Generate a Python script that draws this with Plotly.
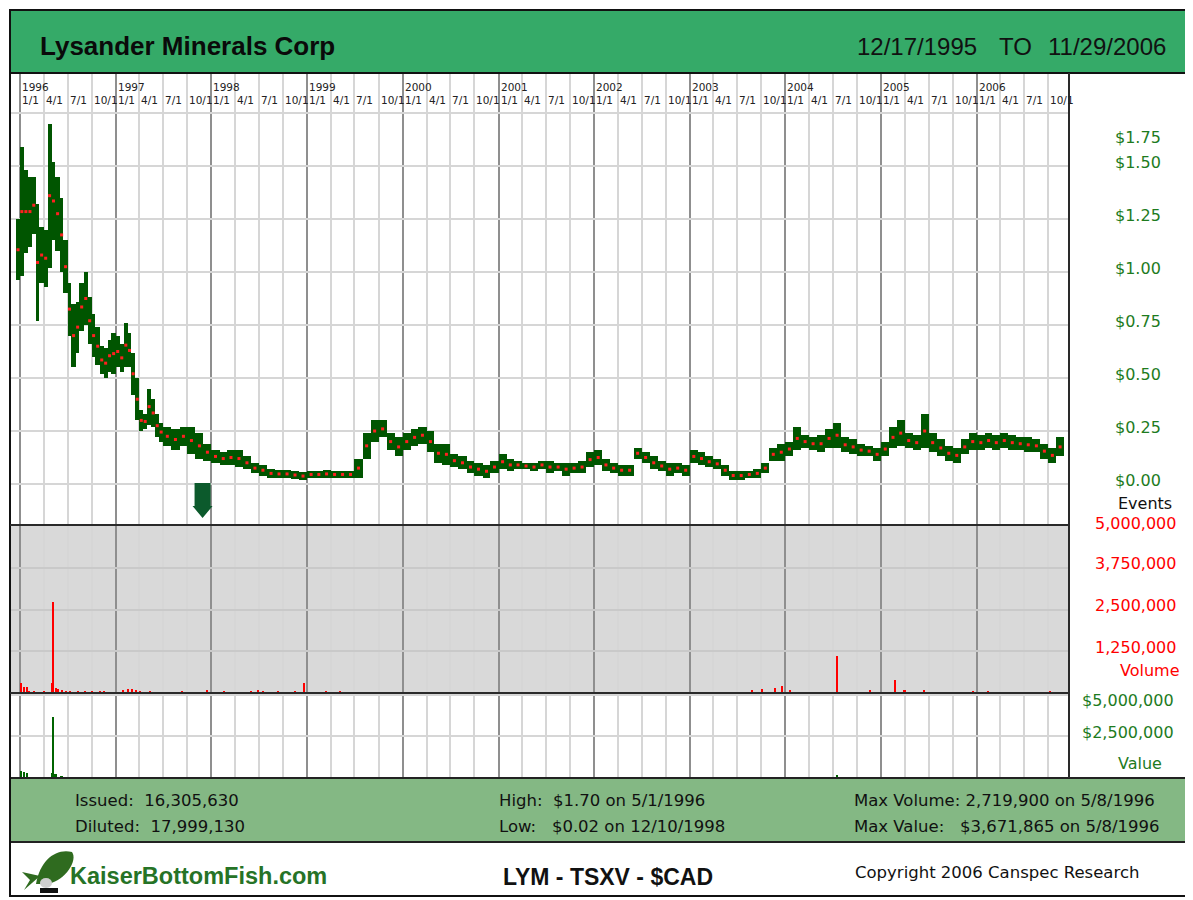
import plotly.graph_objects as go
import pandas as pd

# ---------------- data ----------------
price_dates = [
    "1995-12-17", "1996-01-01", "1996-01-15", "1996-02-01", "1996-02-15", "1996-03-01", "1996-03-15",
    "1996-04-01", "1996-04-15", "1996-05-01", "1996-05-15", "1996-06-01", "1996-06-15", "1996-07-01",
    "1996-07-15", "1996-08-01", "1996-08-15", "1996-09-01", "1996-09-15", "1996-10-01", "1996-10-15",
    "1996-11-01", "1996-11-15", "1996-12-01", "1996-12-15", "1997-01-01", "1997-01-15", "1997-02-01",
    "1997-02-15", "1997-03-01", "1997-03-15", "1997-04-01", "1997-04-15", "1997-05-01", "1997-05-15",
    "1997-06-01", "1997-06-15",
    "1997-07-01", "1997-08-01", "1997-09-01", "1997-10-01", "1997-11-01", "1997-12-01",
    "1998-01-01", "1998-02-01", "1998-03-01", "1998-04-01", "1998-05-01", "1998-06-01",
    "1998-07-01", "1998-08-01", "1998-09-01", "1998-10-01", "1998-11-01", "1998-12-01",
    "1999-01-01", "1999-02-01", "1999-03-01", "1999-04-01", "1999-05-01", "1999-06-01",
    "1999-07-01", "1999-08-01", "1999-09-01", "1999-10-01", "1999-11-01", "1999-12-01",
    "2000-01-01", "2000-02-01", "2000-03-01", "2000-04-01", "2000-05-01", "2000-06-01",
    "2000-07-01", "2000-08-01", "2000-09-01", "2000-10-01", "2000-11-01", "2000-12-01",
    "2001-01-01", "2001-02-01", "2001-03-01", "2001-04-01", "2001-05-01", "2001-06-01",
    "2001-07-01", "2001-08-01", "2001-09-01", "2001-10-01", "2001-11-01", "2001-12-01",
    "2002-01-01", "2002-02-01", "2002-03-01", "2002-04-01", "2002-05-01", "2002-06-01",
    "2002-07-01", "2002-08-01", "2002-09-01", "2002-10-01", "2002-11-01", "2002-12-01",
    "2003-01-01", "2003-02-01", "2003-03-01", "2003-04-01", "2003-05-01", "2003-06-01",
    "2003-07-01", "2003-08-01", "2003-09-01", "2003-10-01", "2003-11-01", "2003-12-01",
    "2004-01-01", "2004-02-01", "2004-03-01", "2004-04-01", "2004-05-01", "2004-06-01",
    "2004-07-01", "2004-08-01", "2004-09-01", "2004-10-01", "2004-11-01", "2004-12-01",
    "2005-01-01", "2005-02-01", "2005-03-01", "2005-04-01", "2005-05-01", "2005-06-01",
    "2005-07-01", "2005-08-01", "2005-09-01", "2005-10-01", "2005-11-01", "2005-12-01",
    "2006-01-01", "2006-02-01", "2006-03-01", "2006-04-01", "2006-05-01", "2006-06-01",
    "2006-07-01", "2006-08-01", "2006-09-01", "2006-10-01", "2006-11-01",
]
price_end = "2006-11-29"

price_high = [
    1.25, 1.59, 1.48, 1.45, 1.45, 1.32, 1.21,
    1.20, 1.70, 1.52, 1.45, 1.35, 1.15, 0.95,
    0.85, 0.86, 0.95, 1.00, 0.88, 0.80, 0.74,
    0.65, 0.64, 0.68, 0.71, 0.70, 0.66, 0.76,
    0.71, 0.62, 0.50, 0.35, 0.33, 0.45, 0.40,
    0.33, 0.29,
    0.27, 0.26, 0.27, 0.27, 0.24, 0.19,
    0.16, 0.15, 0.16, 0.16, 0.13, 0.10,
    0.09, 0.07, 0.065, 0.065, 0.06, 0.055,
    0.06, 0.06, 0.065, 0.06, 0.06, 0.06,
    0.12, 0.24, 0.30, 0.30, 0.24, 0.22,
    0.24, 0.26, 0.27, 0.25, 0.19, 0.19,
    0.14, 0.13, 0.11, 0.10, 0.09, 0.11,
    0.14, 0.12, 0.11, 0.10, 0.10, 0.11,
    0.11, 0.10, 0.10, 0.10, 0.11, 0.15,
    0.16, 0.12, 0.10, 0.09, 0.09, 0.17,
    0.15, 0.13, 0.11, 0.10, 0.10, 0.09,
    0.16, 0.15, 0.13, 0.12, 0.09, 0.06,
    0.06, 0.06, 0.07, 0.10, 0.17, 0.19,
    0.20, 0.27, 0.23, 0.22, 0.23, 0.26,
    0.29, 0.22, 0.21, 0.19, 0.18, 0.17,
    0.20, 0.27, 0.30, 0.24, 0.23, 0.33,
    0.24, 0.21, 0.18, 0.17, 0.21, 0.24,
    0.23, 0.24, 0.23, 0.24, 0.23, 0.22,
    0.22, 0.21, 0.19, 0.17, 0.22,
]
price_low = [
    0.96, 0.98, 1.09, 1.12, 1.18, 0.77, 0.95,
    0.93, 1.02, 1.15, 1.10, 1.00, 0.90, 0.70,
    0.55, 0.62, 0.72, 0.75, 0.66, 0.60, 0.56,
    0.52, 0.50, 0.53, 0.52, 0.55, 0.53, 0.55,
    0.55, 0.42, 0.30, 0.25, 0.26, 0.28, 0.27,
    0.22, 0.20,
    0.18, 0.16, 0.18, 0.14, 0.12, 0.11,
    0.10, 0.09, 0.09, 0.08, 0.07, 0.05,
    0.04, 0.03, 0.03, 0.03, 0.025, 0.02,
    0.03, 0.03, 0.03, 0.03, 0.03, 0.03,
    0.03, 0.12, 0.20, 0.22, 0.16, 0.13,
    0.16, 0.18, 0.19, 0.15, 0.10, 0.09,
    0.08, 0.07, 0.05, 0.04, 0.03, 0.05,
    0.07, 0.06, 0.07, 0.07, 0.06, 0.07,
    0.05, 0.06, 0.04, 0.05, 0.05, 0.08,
    0.09, 0.06, 0.05, 0.04, 0.04, 0.12,
    0.10, 0.07, 0.06, 0.04, 0.05, 0.04,
    0.10, 0.09, 0.08, 0.07, 0.04, 0.02,
    0.02, 0.03, 0.03, 0.05, 0.11, 0.11,
    0.13, 0.16, 0.17, 0.16, 0.15, 0.17,
    0.17, 0.15, 0.14, 0.13, 0.13, 0.11,
    0.13, 0.17, 0.18, 0.17, 0.16, 0.17,
    0.15, 0.13, 0.11, 0.10, 0.14, 0.16,
    0.16, 0.17, 0.16, 0.17, 0.16, 0.16,
    0.15, 0.15, 0.12, 0.10, 0.13,
]

vol_dates = [
    "1996-01-05", "1996-01-16", "1996-01-28", "1996-02-04", "1996-02-23", "1996-04-02",
    "1996-05-02", "1996-05-08", "1996-05-17", "1996-05-25", "1996-06-09", "1996-06-25",
    "1996-07-10", "1996-08-09", "1996-09-05", "1996-10-02", "1996-11-01", "1996-11-17",
    "1997-01-28", "1997-02-16", "1997-03-04", "1997-03-19", "1997-04-03", "1997-05-11",
    "1997-09-11", "1997-12-15", "1998-02-18", "1998-06-01", "1998-06-28", "1998-07-17",
    "1998-09-12", "1998-11-16", "1998-12-20", "1999-03-14", "1999-05-07",
    "2003-08-27", "2003-10-04", "2003-11-23", "2003-12-20", "2004-01-19", "2004-07-16",
    "2004-11-19", "2005-02-23", "2005-04-01", "2005-06-15", "2005-12-20", "2006-02-15",
    "2006-10-10",
]
vol_values = [
    300000, 180000, 170000, 60000, 60000, 60000,
    300000, 2719900, 150000, 120000, 80000, 70000,
    60000, 60000, 60000, 60000, 60000, 60000,
    80000, 120000, 110000, 90000, 70000, 60000,
    60000, 100000, 60000, 60000, 80000, 70000,
    60000, 60000, 300000, 60000, 60000,
    100000, 120000, 150000, 200000, 100000, 1100000,
    100000, 400000, 100000, 80000, 60000, 50000,
    50000,
]

val_dates = ["1996-01-05", "1996-01-16", "1996-01-28", "1996-05-02", "1996-05-08", "1996-05-17",
             "1996-06-09", "2004-07-16"]
val_values = [380000, 300000, 250000, 250000, 3671865, 200000, 60000, 100000]

event_dates = ["1997-11-28"]

price_ticks = [0.0, 0.25, 0.5, 0.75, 1.0, 1.25, 1.5, 1.75]
price_labels = ["$0.00", "$0.25", "$0.50", "$0.75", "$1.00", "$1.25", "$1.50", "$1.75"]
vol_ticks = [1250000, 2500000, 3750000, 5000000]
vol_labels = ["1,250,000", "2,500,000", "3,750,000", "5,000,000"]
val_ticks = [2500000, 5000000]
val_labels = ["$2,500,000", "$5,000,000"]
years = list(range(1996, 2007))
quarter_labels = ["1/1", "4/1", "7/1", "10/1"]
quarter_months = [1, 4, 7, 10]

# ---------------- layout helpers ----------------
# the page body has an 8px margin; figure sized to fill the rest of the 1193x900 window
OFF = 8
W, H = 1193 - OFF, 900 - OFF


def px(x):
    return (x - OFF) / W


def py(y):
    return 1 - (y - OFF) / H


FONT = "Liberation Sans, Arial, sans-serif"
WIDE = "DejaVu Sans, Verdana, sans-serif"
DARK_GREEN = "#005500"
LABEL_GREEN = "#1e7b1e"

dates = pd.to_datetime(price_dates)
ends = list(dates[1:]) + [pd.Timestamp(price_end)]
widths = [(e - d).total_seconds() * 1000 for d, e in zip(dates, ends)]
spans = [h - l for h, l in zip(price_high, price_low)]
mids = [d + (e - d) / 2 for d, e in zip(dates, ends)]
midvals = [(h + l) / 2 for h, l in zip(price_high, price_low)]

fig = go.Figure()

fig.add_trace(go.Bar(
    x=dates, y=spans, base=price_low, width=widths, offset=0,
    marker=dict(color=DARK_GREEN, line=dict(width=0)),
    xaxis="x", yaxis="y", showlegend=False, hoverinfo="skip"))
fig.add_trace(go.Scatter(
    x=mids, y=midvals, mode="markers",
    marker=dict(color="#ff2020", size=3, symbol="square"),
    xaxis="x", yaxis="y", showlegend=False, hoverinfo="skip"))

day_ms = 86400000
fig.add_trace(go.Bar(
    x=pd.to_datetime(vol_dates), y=vol_values, width=[6 * day_ms] * len(vol_dates),
    marker=dict(color="#ff0000", line=dict(width=0)),
    xaxis="x2", yaxis="y2", showlegend=False, hoverinfo="skip"))
fig.add_trace(go.Bar(
    x=pd.to_datetime(val_dates), y=val_values, width=[7 * day_ms] * len(val_dates),
    marker=dict(color="#006400", line=dict(width=0)),
    xaxis="x3", yaxis="y3", showlegend=False, hoverinfo="skip"))

x_range = ["1995-11-23 20:00", "2006-12-19"]
xcommon = dict(
    type="date", range=x_range, domain=[px(10), px(1069)],
    showticklabels=False, ticks="", showline=False, zeroline=False,
    showgrid=True, gridcolor="#8f8f8f", gridwidth=2,
    dtick="M12", tick0="1996-01-01",
    minor=dict(dtick="M3", tick0="1996-01-01", showgrid=True, gridcolor="#d6d6d6", gridwidth=2, ticks=""),
    fixedrange=True,
)
ycommon = dict(showticklabels=False, ticks="", showline=False, zeroline=False,
               showgrid=True, gridwidth=2, fixedrange=True)

fig.update_layout(
    width=W, height=H,
    margin=dict(l=0, r=0, t=0, b=0),
    paper_bgcolor="white", plot_bgcolor="white",
    barmode="overlay", bargap=0,
    xaxis=dict(**xcommon, anchor="y"),
    xaxis2=dict(**xcommon, anchor="y2", matches="x"),
    xaxis3=dict(**xcommon, anchor="y3", matches="x"),
    yaxis=dict(**ycommon, domain=[py(525), py(73)], range=[-0.1934, 1.9387],
               tickvals=price_ticks, gridcolor="#d6d6d6"),
    yaxis2=dict(**ycommon, domain=[py(693), py(525)], range=[0, 5.03e6],
                tickvals=vol_ticks, gridcolor="#c9c9c9"),
    yaxis3=dict(**ycommon, domain=[py(777), py(693)], range=[0, 5.122e6],
                tickvals=val_ticks, gridcolor="#d6d6d6"),
)

shapes = []
# volume panel background
shapes.append(dict(type="rect", xref="x2 domain", yref="y2 domain", x0=0, x1=1, y0=0, y1=1,
                   fillcolor="#d9d9d9", line=dict(width=0), layer="below"))
# header band
shapes.append(dict(type="rect", xref="paper", yref="paper", x0=px(10), x1=px(1190), y0=py(73), y1=py(10),
                   fillcolor="#35aa68", line=dict(color="#111", width=2), layer="above"))
# info band
shapes.append(dict(type="rect", xref="paper", yref="paper", x0=px(10), x1=px(1190), y0=py(842), y1=py(778),
                   fillcolor="#84b884", line=dict(color="#222", width=2), layer="above"))
# outer frame
shapes.append(dict(type="rect", xref="paper", yref="paper", x0=px(10), x1=px(1190), y0=py(896), y1=py(10),
                   fillcolor="rgba(0,0,0,0)", line=dict(color="#111", width=2), layer="above"))
# panel separators
for yy in (525, 693):
    shapes.append(dict(type="line", xref="paper", yref="paper", x0=px(10), x1=px(1069), y0=py(yy), y1=py(yy),
                       line=dict(color="#2a2a2a", width=2), layer="above"))
shapes.append(dict(type="line", xref="paper", yref="paper", x0=px(1069), x1=px(1069), y0=py(778), y1=py(73),
                   line=dict(color="#2a2a2a", width=2), layer="above"))
# event arrow (pixel-sized, anchored at event date / $0)
for ev in event_dates:
    shapes.append(dict(type="path", xref="x", yref="y", xsizemode="pixel", ysizemode="pixel",
                       xanchor=ev, yanchor=0,
                       path="M -8,1 L 8,1 L 8,-22 L 10,-22 L 0,-34 L -10,-22 L -8,-22 Z",
                       fillcolor="#0c5a2c", line=dict(width=0), layer="above"))
# fish logo
shapes.append(dict(type="path", xref="paper", yref="paper",
                   path=(f"M {px(36)},{py(884)} C {px(40)},{py(860)} {px(56)},{py(848)} {px(72)},{py(852)} "
                         f"C {px(78)},{py(860)} {px(66)},{py(880)} {px(48)},{py(884)} Z"),
                   fillcolor="#2f6b1f", line=dict(width=0)))
shapes.append(dict(type="path", xref="paper", yref="paper",
                   path=f"M {px(40)},{py(876)} L {px(22)},{py(872)} L {px(30)},{py(880)} L {px(24)},{py(890)} Z",
                   fillcolor="#2f6b1f", line=dict(width=0)))
shapes.append(dict(type="circle", xref="paper", yref="paper", x0=px(40), x1=px(52), y0=py(888), y1=py(878),
                   fillcolor="#cfcfcf", line=dict(width=0)))
shapes.append(dict(type="rect", xref="paper", yref="paper", x0=px(40), x1=px(58), y0=py(893), y1=py(888),
                   fillcolor="#111", line=dict(width=0)))
fig.update_layout(shapes=shapes)

ann = []


def txt(x, y, text, size, color="#111", anchor="left", bold=False, family=FONT, **kw):
    d = dict(x=px(x), y=py(y), xref="paper", yref="paper", text=f"<b>{text}</b>" if bold else text,
             showarrow=False, xanchor=anchor, yanchor="middle",
             font=dict(size=size, color=color, family=family))
    d.update(kw)
    ann.append(d)


# header texts
txt(38, 46, "Lysander Minerals Corp", 26, "#0a0a0a", bold=True)
txt(855, 46, "12/17/1995", 24, "#111")
txt(997, 46, "TO", 24, "#111")
txt(1046, 46, "11/29/2006", 24, "#111")

# date labels on top of the chart
for yr in years:
    ann.append(dict(x=f"{yr}-01-01", y=py(87), xref="x", yref="paper", text=str(yr), showarrow=False,
                    xanchor="left", yanchor="middle", xshift=0,
                    font=dict(size=10.5, color="#222", family=WIDE)))
    for q, m in zip(quarter_labels, quarter_months):
        ann.append(dict(x=f"{yr}-{m:02d}-01", y=py(100), xref="x", yref="paper", text=q, showarrow=False,
                        xanchor="left", yanchor="middle", xshift=0,
                        font=dict(size=10.5, color="#222", family=WIDE)))

# right-side axis labels
for v, lab in zip(price_ticks, price_labels):
    ann.append(dict(x=px(1163), y=v, xref="paper", yref="y", text=lab, showarrow=False,
                    xanchor="right", yanchor="middle", yshift=(-24 if v == max(price_ticks) else 4),
                    font=dict(size=16, color=LABEL_GREEN, family=WIDE)))
txt(1174, 503, "Events", 16, "#111", anchor="right", family=WIDE)
for v, lab in zip(vol_ticks, vol_labels):
    ann.append(dict(x=px(1178), y=v, xref="paper", yref="y2", text=lab, showarrow=False,
                    xanchor="right", yanchor="middle", yshift=(3 if v == max(vol_ticks) else 4),
                    font=dict(size=16, color="#ff0000", family=WIDE)))
txt(1182, 670, "Volume", 16, "#ff0000", anchor="right", family=WIDE)
for v, lab in zip(val_ticks, val_labels):
    ann.append(dict(x=px(1176), y=v, xref="paper", yref="y3", text=lab, showarrow=False,
                    xanchor="right", yanchor="middle", yshift=(-5 if v == max(val_ticks) else 4),
                    font=dict(size=16, color=LABEL_GREEN, family=WIDE)))
txt(1164, 763, "Value", 16, LABEL_GREEN, anchor="right", family=WIDE)

# info band
INFO = 16.5
txt(73, 800, "Issued:&nbsp;&nbsp;16,305,630", INFO, family=WIDE)
txt(73, 826, "Diluted:&nbsp;&nbsp;17,999,130", INFO, family=WIDE)
txt(497, 800, "High:&nbsp;&nbsp;$1.70 on 5/1/1996", INFO, family=WIDE)
txt(497, 826, "Low:&nbsp;&nbsp;&nbsp;$0.02 on 12/10/1998", INFO, family=WIDE)
txt(852, 800, "Max Volume: 2,719,900 on 5/8/1996", INFO, family=WIDE)
txt(852, 826, "Max Value:&nbsp;&nbsp;&nbsp;$3,671,865 on 5/8/1996", INFO, family=WIDE)

# footer
txt(68, 876, "KaiserBottomFish.com", 23.5, "#267326", bold=True)
txt(608, 877, "LYM - TSXV - $CAD", 23, "#111", anchor="center", bold=True)
txt(853, 872, "Copyright 2006 Canspec Research", 16.5, "#111", family=WIDE)

fig.update_layout(annotations=ann)

fig.write_html("out.html")
